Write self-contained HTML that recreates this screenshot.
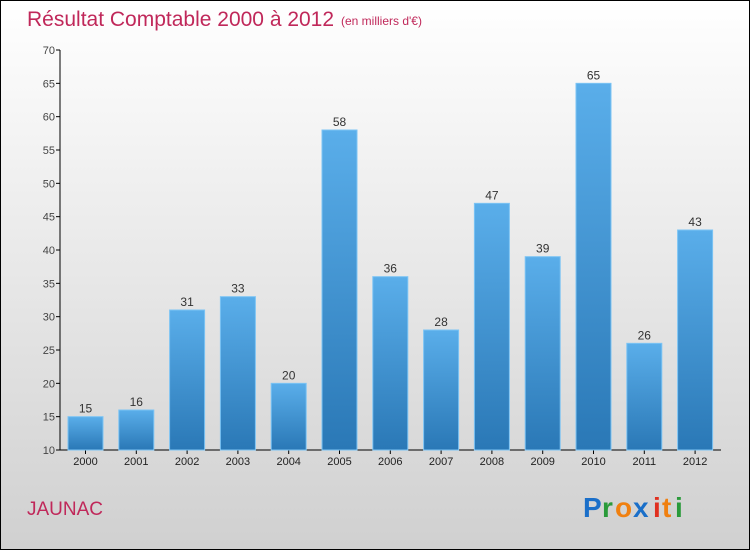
<!DOCTYPE html>
<html><head><meta charset="utf-8"><style>
body{margin:0}
#c{position:relative;width:748px;height:548px;border:1px solid #000;background:linear-gradient(#ffffff,#d0d0d0);font-family:"Liberation Sans",sans-serif;overflow:hidden}
</style></head><body>
<div id="c">
<svg width="748" height="548" style="position:absolute;left:0;top:0" id="svg">
<defs><linearGradient id="bg" x1="0" y1="0" x2="0" y2="1"><stop offset="0" stop-color="#5aaeea"/><stop offset="1" stop-color="#2a78b6"/></linearGradient></defs>
<text x="26" y="25" font-size="21" fill="#c0285a">Résultat Comptable 2000 à 2012</text>
<text x="340" y="24" font-size="12" fill="#c0285a">(en milliers d'€)</text>
<text x="26" y="514" font-size="19" fill="#c0285a">JAUNAC</text>
<g font-size="28" font-weight="bold">
<text x="582" y="516" fill="#1a6fc9">P</text><text x="601" y="516" fill="#2a9a3a">r</text><text x="614" y="516" fill="#f08010">o</text><text x="632" y="516" fill="#1a6fc9">x</text><text x="652" y="516" fill="#e03020">i</text><text x="661" y="516" fill="#f08010">t</text><text x="674" y="516" fill="#2a9a3a">i</text>
</g>
<g id="axes"></g><g id="bars"></g>
</svg>
</div>
<script>
const categories=["2000","2001","2002","2003","2004","2005","2006","2007","2008","2009","2010","2011","2012"];
const values=[15,16,31,33,20,58,36,28,47,39,65,26,43];
const yTicks=[10,15,20,25,30,35,40,45,50,55,60,65,70];
const NS="http://www.w3.org/2000/svg";
function y(v){return 449-(v-10)*400/60;}
function x(i){return 85.5+i*50.8-1;}
function mk(t,a,p){const e=document.createElementNS(NS,t);for(const k in a)e.setAttribute(k,a[k]);p.appendChild(e);return e;}
const ax=document.getElementById('axes'),bg=document.getElementById('bars');
const yl=mk('line',{x1:59,y1:y(70),x2:59,y2:y(10),stroke:'#000'},ax);


const xl=mk('line',{x1:59,y1:y(10),x2:720,y2:y(10),stroke:'#000'},ax);


yTicks.forEach(v=>{
 mk('line',{x1:55,y1:y(v),x2:59,y2:y(v),stroke:'#000'},ax);
 const t=mk('text',{x:54,y:y(v)+4,'text-anchor':'end','font-size':11,fill:'#444'},ax);t.textContent=v;
 
 
});
categories.forEach((c,i)=>{
 mk('line',{x1:x(i),y1:y(10),x2:x(i),y2:y(10)+4,stroke:'#000'},ax);
 const t=mk('text',{x:x(i),y:y(10)+15,'text-anchor':'middle','font-size':11,fill:'#222'},ax);t.textContent=c;
 
 
 const r=mk('rect',{x:x(i)-17.5,y:y(values[i]),width:35,height:y(10)-y(values[i]),fill:'url(#bg)',stroke:'#7cc4f4','stroke-width':1},bg);
 
 
 const l=mk('text',{x:x(i),y:y(values[i])-4,'text-anchor':'middle','font-size':12,fill:'#333'},bg);l.textContent=values[i];
 
 
});
</script>
</body></html>
